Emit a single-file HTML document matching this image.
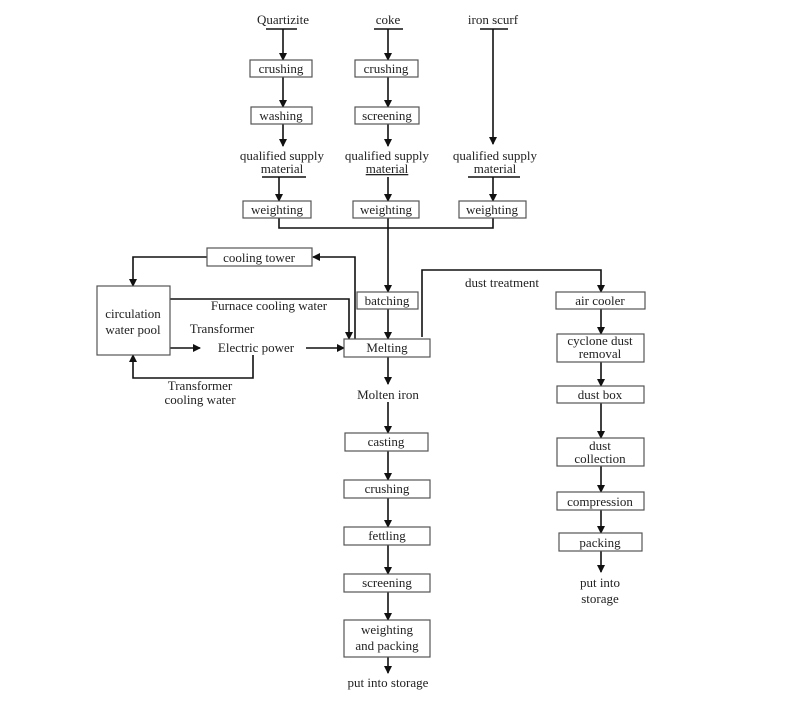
<!DOCTYPE html>
<html><head><meta charset="utf-8"><style>
html,body{margin:0;padding:0;background:#fff;}
svg text{font-family:"Liberation Serif",serif;font-size:13px;fill:#222;}
</style></head><body>
<svg width="806" height="708" viewBox="0 0 806 708" xmlns="http://www.w3.org/2000/svg">
<defs><marker id="a" markerWidth="8" markerHeight="8" refX="7" refY="4" orient="auto" markerUnits="userSpaceOnUse"><path d="M0,0 L8,4 L0,8 z" fill="#111"/></marker></defs>
<g stroke="#111" stroke-width="1.6" fill="none">
<!-- top columns -->
<line x1="266" y1="29" x2="297" y2="29"/><line x1="374" y1="29" x2="403" y2="29"/><line x1="480" y1="29" x2="508" y2="29"/>
<line x1="283" y1="29" x2="283" y2="60" marker-end="url(#a)"/>
<line x1="283" y1="77" x2="283" y2="107" marker-end="url(#a)"/>
<line x1="283" y1="124" x2="283" y2="146" marker-end="url(#a)"/>
<line x1="388" y1="29" x2="388" y2="60" marker-end="url(#a)"/>
<line x1="388" y1="77" x2="388" y2="107" marker-end="url(#a)"/>
<line x1="388" y1="124" x2="388" y2="146" marker-end="url(#a)"/>
<line x1="493" y1="29" x2="493" y2="144" marker-end="url(#a)"/>
<line x1="262" y1="177" x2="306" y2="177"/><line x1="468" y1="177" x2="520" y2="177"/>
<line x1="279" y1="177" x2="279" y2="201" marker-end="url(#a)"/>
<line x1="388" y1="177" x2="388" y2="201" marker-end="url(#a)"/>
<line x1="493" y1="177" x2="493" y2="201" marker-end="url(#a)"/>
<polyline points="279,218 279,228 493,228 493,218"/>
<line x1="388" y1="218" x2="388" y2="292" marker-end="url(#a)"/>
<line x1="388" y1="309" x2="388" y2="339" marker-end="url(#a)"/>
<!-- cooling loop -->
<polyline points="355,339 355,257 313,257" marker-end="url(#a)"/>
<polyline points="207,257 133,257 133,286" marker-end="url(#a)"/>
<polyline points="170,299 349,299 349,339" marker-end="url(#a)"/>
<line x1="170" y1="348" x2="200" y2="348" marker-end="url(#a)"/>
<line x1="306" y1="348" x2="344" y2="348" marker-end="url(#a)"/>
<polyline points="253,355 253,378 133,378 133,355" marker-end="url(#a)"/>
<!-- main col -->
<line x1="388" y1="357" x2="388" y2="384" marker-end="url(#a)"/>
<line x1="388" y1="402" x2="388" y2="433" marker-end="url(#a)"/>
<line x1="388" y1="451" x2="388" y2="480" marker-end="url(#a)"/>
<line x1="388" y1="498" x2="388" y2="527" marker-end="url(#a)"/>
<line x1="388" y1="545" x2="388" y2="574" marker-end="url(#a)"/>
<line x1="388" y1="592" x2="388" y2="620" marker-end="url(#a)"/>
<line x1="388" y1="657" x2="388" y2="673" marker-end="url(#a)"/>
<!-- dust -->
<polyline points="422,337 422,270 601,270 601,292" marker-end="url(#a)"/>
<line x1="601" y1="309" x2="601" y2="334" marker-end="url(#a)"/>
<line x1="601" y1="362" x2="601" y2="386" marker-end="url(#a)"/>
<line x1="601" y1="403" x2="601" y2="438" marker-end="url(#a)"/>
<line x1="601" y1="466" x2="601" y2="492" marker-end="url(#a)"/>
<line x1="601" y1="510" x2="601" y2="533" marker-end="url(#a)"/>
<line x1="601" y1="551" x2="601" y2="572" marker-end="url(#a)"/>
</g>
<g stroke="#555" stroke-width="1.2" fill="#fff">
<rect x="250" y="60" width="62" height="17"/><rect x="251" y="107" width="61" height="17"/>
<rect x="355" y="60" width="63" height="17"/><rect x="355" y="107" width="64" height="17"/>
<rect x="243" y="201" width="68" height="17"/><rect x="353" y="201" width="66" height="17"/><rect x="459" y="201" width="67" height="17"/>
<rect x="207" y="248" width="105" height="18"/>
<rect x="97" y="286" width="73" height="69"/>
<rect x="357" y="292" width="61" height="17"/>
<rect x="344" y="339" width="86" height="18"/>
<rect x="345" y="433" width="83" height="18"/>
<rect x="344" y="480" width="86" height="18"/>
<rect x="344" y="527" width="86" height="18"/>
<rect x="344" y="574" width="86" height="18"/>
<rect x="344" y="620" width="86" height="37"/>
<rect x="556" y="292" width="89" height="17"/>
<rect x="557" y="334" width="87" height="28"/>
<rect x="557" y="386" width="87" height="17"/>
<rect x="557" y="438" width="87" height="28"/>
<rect x="557" y="492" width="87" height="18"/>
<rect x="559" y="533" width="83" height="18"/>
</g>
<g text-anchor="middle">
<text x="283" y="24">Quartizite</text><text x="388" y="24">coke</text><text x="493" y="24">iron scurf</text>
<text x="281" y="73">crushing</text><text x="386" y="73">crushing</text>
<text x="281" y="120">washing</text><text x="387" y="120">screening</text>
<text x="282" y="160">qualified supply</text><text x="282" y="173">material</text>
<text x="387" y="160">qualified supply</text><text x="387" y="173" text-decoration="underline">material</text>
<text x="495" y="160">qualified supply</text><text x="495" y="173">material</text>
<text x="277" y="214">weighting</text><text x="386" y="214">weighting</text><text x="492" y="214">weighting</text>
<text x="259" y="262">cooling tower</text>
<text x="133" y="318">circulation</text><text x="133" y="334">water pool</text>
<text x="269" y="310">Furnace cooling water</text>
<text x="222" y="333">Transformer</text>
<text x="256" y="352">Electric power</text>
<text x="200" y="390">Transformer</text><text x="200" y="404">cooling water</text>
<text x="387" y="305">batching</text>
<text x="387" y="352">Melting</text>
<text x="388" y="399">Molten iron</text>
<text x="386" y="446">casting</text>
<text x="387" y="493">crushing</text>
<text x="387" y="540">fettling</text>
<text x="387" y="587">screening</text>
<text x="387" y="634">weighting</text><text x="387" y="650">and packing</text>
<text x="388" y="687">put into storage</text>
<text x="502" y="287">dust treatment</text>
<text x="600" y="305">air cooler</text>
<text x="600" y="345">cyclone dust</text><text x="600" y="358">removal</text>
<text x="600" y="399">dust box</text>
<text x="600" y="450">dust</text><text x="600" y="463">collection</text>
<text x="600" y="506">compression</text>
<text x="600" y="547">packing</text>
<text x="600" y="587">put into</text><text x="600" y="603">storage</text>
</g>
</svg>
</body></html>
